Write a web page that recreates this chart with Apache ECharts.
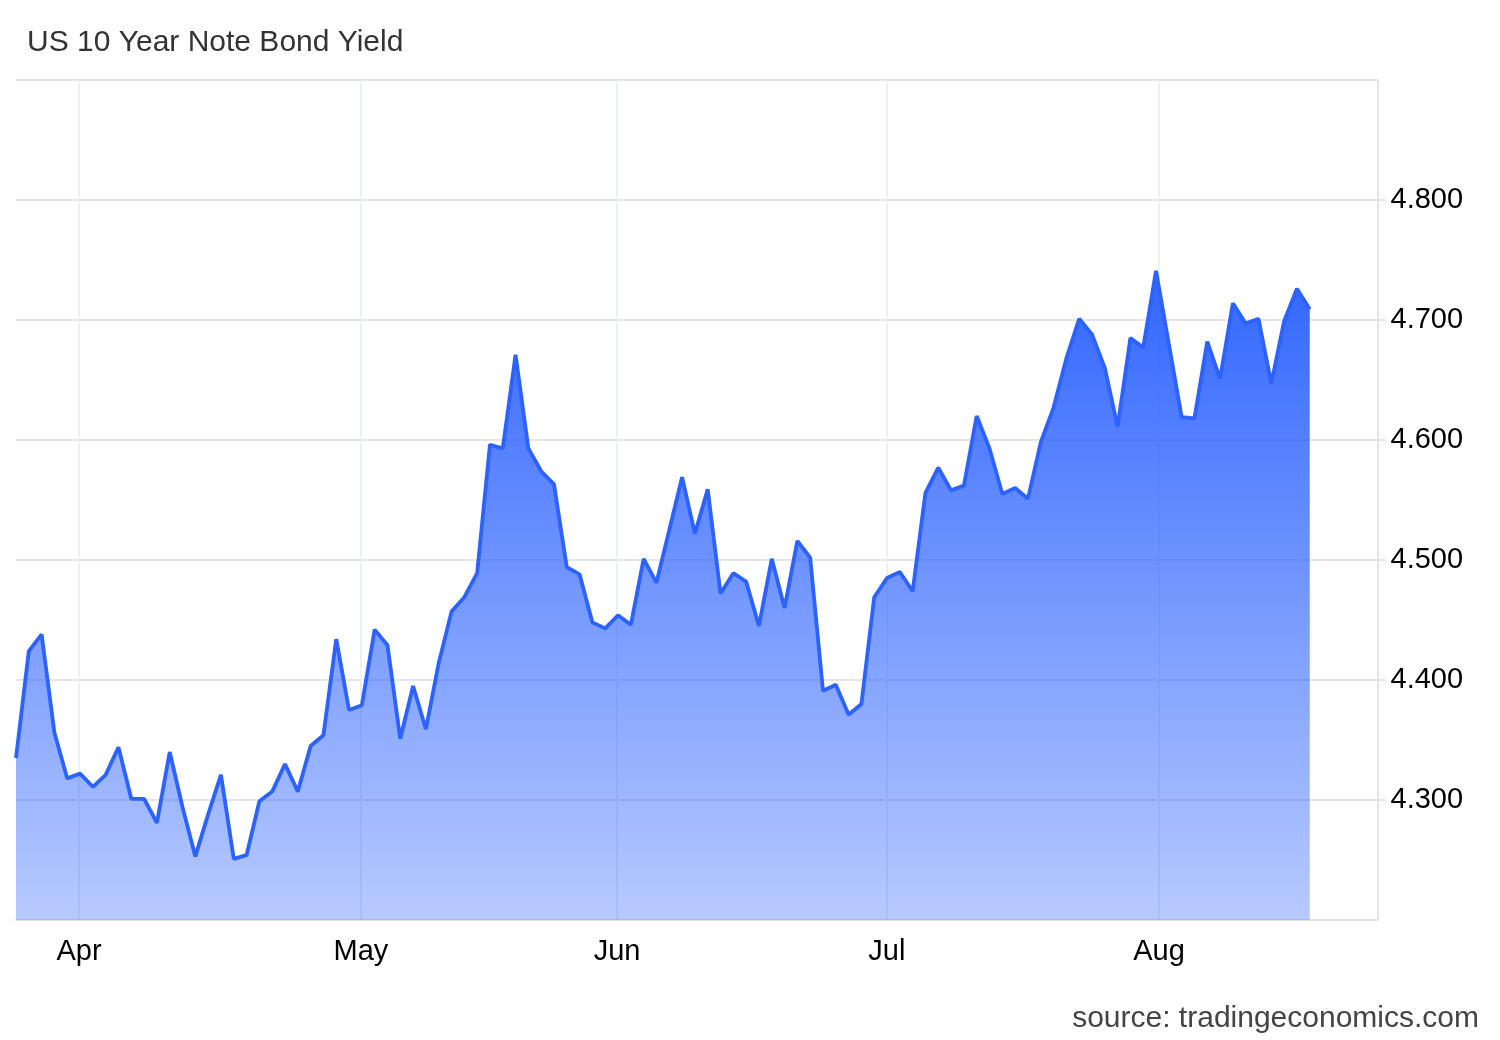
<!DOCTYPE html>
<html>
<head>
<meta charset="utf-8">
<style>
  html, body { margin: 0; padding: 0; background: #ffffff; }
  #chart { width: 1500px; height: 1040px; }
</style>
<script src="https://cdn.jsdelivr.net/npm/echarts@6/dist/echarts.min.js"></script>
</head>
<body>
<div id="chart"></div>
<script>
// US 10Y yield, one value per trading day
const yields = [
  4.335, 4.424, 4.438, 4.356, 4.318, 4.322, 4.311, 4.321, 4.344, 4.301,
  4.301, 4.281, 4.340, 4.294, 4.253, 4.288, 4.321, 4.251, 4.254, 4.299,
  4.307, 4.330, 4.307, 4.345, 4.354, 4.434, 4.375, 4.379, 4.442, 4.429,
  4.351, 4.395, 4.359, 4.414, 4.457, 4.469, 4.489, 4.596, 4.593, 4.671,
  4.593, 4.574, 4.563, 4.494, 4.488, 4.448, 4.443, 4.454, 4.446, 4.501,
  4.481, 4.525, 4.569, 4.522, 4.559, 4.472, 4.489, 4.482, 4.445, 4.501,
  4.460, 4.516, 4.502, 4.391, 4.396, 4.371, 4.380, 4.469, 4.485, 4.490,
  4.474, 4.556, 4.577, 4.558, 4.562, 4.620, 4.593, 4.555, 4.560, 4.551,
  4.598, 4.627, 4.668, 4.701, 4.688, 4.660, 4.611, 4.685, 4.677, 4.741,
  4.680, 4.619, 4.618, 4.682, 4.651, 4.714, 4.697, 4.701, 4.647, 4.699,
  4.726, 4.709
];
// month boundaries, in trading-day index units
const monthLabels = ['Apr', 'May', 'Jun', 'Jul', 'Aug'];
const monthTicks = [4.92, 26.93, 46.92, 67.99, 89.23];
const xMax = 106.29;
const yMin = 4.2, yMax = 4.9, yStep = 0.1;

const FONT = "'Liberation Sans', Arial, sans-serif";
const seriesData = yields.map((v, i) => [i, v]);

const chart = echarts.init(document.getElementById('chart'), null, { renderer: 'canvas' });
chart.setOption({
  animation: false,
  backgroundColor: '#ffffff',
  title: [
    {
      text: 'US 10 Year Note Bond Yield',
      left: 27, top: 28, padding: 0,
      textStyle: { fontFamily: FONT, fontSize: 30, fontWeight: 'normal', color: '#333333' }
    },
    {
      text: 'source: tradingeconomics.com',
      right: 21, top: 1004, padding: 0,
      textStyle: { fontFamily: FONT, fontSize: 30, fontWeight: 'normal', color: '#444444' }
    }
  ],
  grid: { left: 16, right: 122.5, top: 80, bottom: 120, containLabel: false },
  xAxis: {
    type: 'value',
    min: 0,
    max: xMax,
    axisLine: { show: true, onZero: false, lineStyle: { color: '#e6e6e6', width: 2 } },
    axisTick: { show: false, customValues: monthTicks },
    axisLabel: {
      customValues: monthTicks,
      margin: 17,
      fontFamily: FONT, fontSize: 29, color: '#000000',
      formatter: function (v) {
        let best = 0, d = Infinity;
        monthTicks.forEach((t, i) => { if (Math.abs(t - v) < d) { d = Math.abs(t - v); best = i; } });
        return monthLabels[best];
      }
    },
    splitLine: { show: true, lineStyle: { color: '#edf0f5', width: 2 } }
  },
  yAxis: {
    type: 'value',
    position: 'right',
    min: yMin,
    max: yMax,
    interval: yStep,
    axisLine: { show: true, onZero: false, lineStyle: { color: '#e6e6e6', width: 2 } },
    axisTick: { show: true, inside: false, length: 8, lineStyle: { color: '#e6e6e6', width: 2 } },
    axisLabel: {
      margin: 13,
      fontFamily: FONT, fontSize: 29, color: '#000000',
      showMinLabel: false, showMaxLabel: false,
      formatter: function (v) { return v.toFixed(3); }
    },
    splitLine: { show: true, lineStyle: { color: '#e6e6e6', width: 2 } }
  },
  series: [{
    type: 'line',
    data: seriesData,
    showSymbol: false,
    lineStyle: { color: '#2c62ff', width: 3.8 },
    areaStyle: {
      origin: 'start',
      opacity: 1,
      color: new echarts.graphic.LinearGradient(0, 0, 0, 1, [
        { offset: 0, color: 'rgba(45,99,255,0.98)' },
        { offset: 1, color: 'rgba(45,99,255,0.34)' }
      ])
    }
  }]
});
</script>
</body>
</html>
